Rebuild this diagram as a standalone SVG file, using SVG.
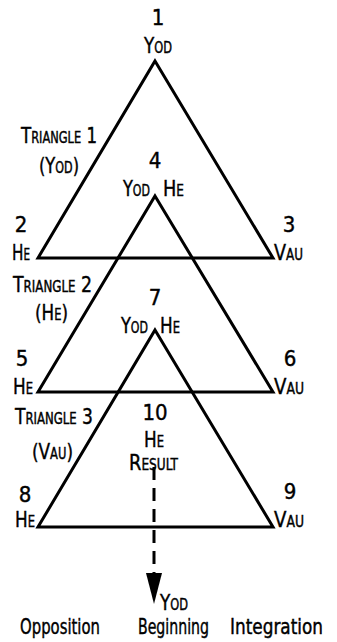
<svg xmlns="http://www.w3.org/2000/svg" width="337" height="642" viewBox="0 0 337 642">
<style>
text{font-family:"DejaVu Sans Condensed","Liberation Sans",sans-serif;font-stretch:condensed;font-size:22px;fill:#000;stroke:#000;stroke-width:0.4;font-variant:small-caps}
.m{text-anchor:middle}
.n{font-variant:normal;font-size:20.5px}
.tri{fill:none;stroke:#000;stroke-width:3;stroke-linejoin:miter}
.dash{stroke:#000;stroke-width:3;stroke-dasharray:13 8;fill:none}
</style>
<rect width="337" height="642" fill="#fff"/>
<g id="triangles">
<polygon class="tri" points="155,61 273,258 38,258"/>
<polygon class="tri" points="155,196 273,392 38,392"/>
<polygon class="tri" points="155,330 273,527 38,527"/>
</g>
<g id="connectors">
<line class="dash" x1="154" y1="467" x2="154" y2="573"/>
<path d="M146,573 L162,573 L154,604 Z" fill="#000"/>
</g>
<g id="n1"><text class="m" x="158" y="25">1</text><text x="144" y="53" textLength="28" lengthAdjust="spacingAndGlyphs">Yod</text></g>
<g id="n4"><text class="m" x="155" y="168">4</text><text x="123" y="196" textLength="27" lengthAdjust="spacingAndGlyphs">Yod</text><text x="163" y="196" textLength="21" lengthAdjust="spacingAndGlyphs">He</text></g>
<g id="n2"><text class="m" x="21" y="232">2</text><text x="12" y="260" textLength="18" lengthAdjust="spacingAndGlyphs">He</text></g>
<g id="n3"><text class="m" x="289" y="232">3</text><text x="274" y="260" textLength="29" lengthAdjust="spacingAndGlyphs">Vau</text></g>
<g id="n7"><text class="m" x="155" y="305">7</text><text x="121" y="333" textLength="27" lengthAdjust="spacingAndGlyphs">Yod</text><text x="160" y="333" textLength="20" lengthAdjust="spacingAndGlyphs">He</text></g>
<g id="n5"><text class="m" x="22" y="366">5</text><text x="13" y="394" textLength="20" lengthAdjust="spacingAndGlyphs">He</text></g>
<g id="n6"><text class="m" x="290" y="366">6</text><text x="274" y="394" textLength="30" lengthAdjust="spacingAndGlyphs">Vau</text></g>
<g id="n10"><text class="m" x="155" y="420">10</text><text x="144" y="447" textLength="20" lengthAdjust="spacingAndGlyphs">He</text><text x="129" y="470" textLength="49" lengthAdjust="spacingAndGlyphs">Result</text></g>
<g id="n8"><text class="m" x="25" y="502">8</text><text x="15" y="527" textLength="20" lengthAdjust="spacingAndGlyphs">He</text></g>
<g id="n9"><text class="m" x="290" y="499">9</text><text x="274" y="527" textLength="30" lengthAdjust="spacingAndGlyphs">Vau</text></g>
<g id="t1"><text x="21" y="143" textLength="76" lengthAdjust="spacingAndGlyphs">Triangle 1</text><text x="39" y="173" textLength="40" lengthAdjust="spacingAndGlyphs">(Yod)</text></g>
<g id="t2"><text x="13" y="292" textLength="79" lengthAdjust="spacingAndGlyphs">Triangle 2</text><text x="35" y="320" textLength="33" lengthAdjust="spacingAndGlyphs">(He)</text></g>
<g id="t3"><text x="15" y="424" textLength="78" lengthAdjust="spacingAndGlyphs">Triangle 3</text><text x="32" y="459" textLength="41" lengthAdjust="spacingAndGlyphs">(Vau)</text></g>
<g id="yod"><text x="160" y="610" textLength="28" lengthAdjust="spacingAndGlyphs">Yod</text></g>
<g id="bottom">
<text class="n" x="20" y="634" textLength="80" lengthAdjust="spacingAndGlyphs">Opposition</text>
<text class="n" x="138" y="634" textLength="71" lengthAdjust="spacingAndGlyphs">Beginning</text>
<text class="n" x="230" y="634" textLength="93" lengthAdjust="spacingAndGlyphs">Integration</text>
</g>
</svg>
